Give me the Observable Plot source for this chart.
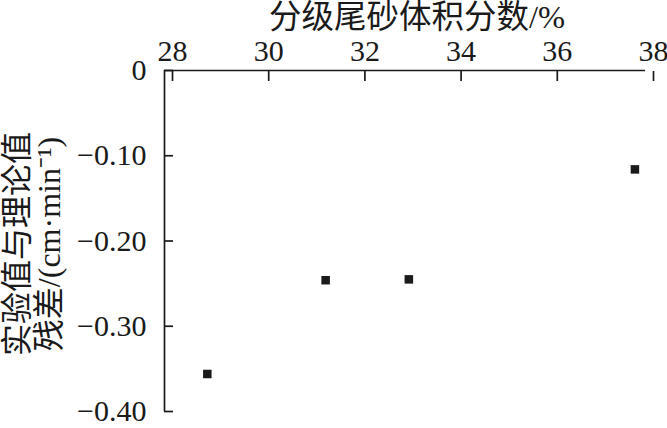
<!DOCTYPE html>
<html>
<head>
<meta charset="utf-8">
<script src="https://cdn.jsdelivr.net/npm/d3@7"></script>
<script src="https://cdn.jsdelivr.net/npm/@observablehq/plot@0.6"></script>
<style>
  html, body { margin: 0; padding: 0; background: #fff; }
  #chart { width: 667px; height: 428px; }
  #chart svg, #chart svg g, #chart svg text {
    font-family: "Liberation Serif", "Noto Sans CJK SC" !important;
  }
  #chart svg g[aria-label$="tick label"], #chart svg g[aria-label$="tick label"] text {
    font-size: 30px !important;
    font-variant: normal !important;
  }
</style>
</head>
<body>
<div id="chart"></div>
<script>
// Data
const volumeFraction = [28.89, 31.35, 33.08, 37.78];      // 分级尾砂体积分数/%
const residual       = [-0.356, -0.246, -0.245, -0.116];   // 实验值与理论值残差/(cm·min⁻¹)
const xTicks = [28, 30, 32, 34, 36, 38];
const yTicks = [0, -0.10, -0.20, -0.30, -0.40];
const xLabel = "分级尾砂体积分数/%";
const yLabel = "实验值与理论值\n残差/(cm·min⁻¹)";

const points = volumeFraction.map((x, i) => ({x, y: residual[i]}));
const ink = "#1a1a1a";
const serif = "Liberation Serif, Noto Sans CJK SC";

const chart = Plot.plot({
  width: 667,
  height: 428,
  marginLeft: 164,
  marginTop: 70,
  marginRight: 22,
  marginBottom: 17,
  style: {
    fontFamily: serif,
    fontSize: "30px",
    color: ink,
    background: "#fff"
  },
  x: { domain: [28, 38] },
  y: { domain: [-0.4, 0] },
  marks: [
    Plot.ruleY([0], { stroke: ink, strokeWidth: 1.7 }),
    Plot.ruleX([28], { stroke: ink, strokeWidth: 1.7 }),
    Plot.axisX({
      anchor: "top", ticks: xTicks, tickSize: -10, tickPadding: 20,
      tickFormat: d => String(d), label: null, stroke: ink, strokeWidth: 1.7,
      fill: ink, dx: 8, fontSize: 30, fontFamily: serif
    }),
    Plot.axisY({
      anchor: "left", ticks: yTicks, tickSize: -9, tickPadding: 27,
      tickFormat: d => d === 0 ? "0" : "\u2212" + Math.abs(d).toFixed(2),
      label: null, stroke: ink, strokeWidth: 1.7, fill: ink, fontSize: 30,
      fontFamily: serif
    }),
    Plot.dot(points, { x: "x", y: "y", symbol: "square", r: 4.8, fill: ink, stroke: null }),
    Plot.text([xLabel], {
      text: d => d, frameAnchor: "top", lineAnchor: "middle", textAnchor: "middle",
      dx: 12, dy: -53, fontSize: 32.5, fill: ink, fontFamily: serif
    }),
    Plot.text([yLabel], {
      text: d => d, frameAnchor: "left", lineAnchor: "middle", textAnchor: "middle",
      rotate: -90, dx: -131, dy: 3, fontSize: 32, lineHeight: 1.0, fill: ink,
      fontFamily: serif
    })
  ]
});
document.getElementById("chart").appendChild(chart);
</script>
</body>
</html>
